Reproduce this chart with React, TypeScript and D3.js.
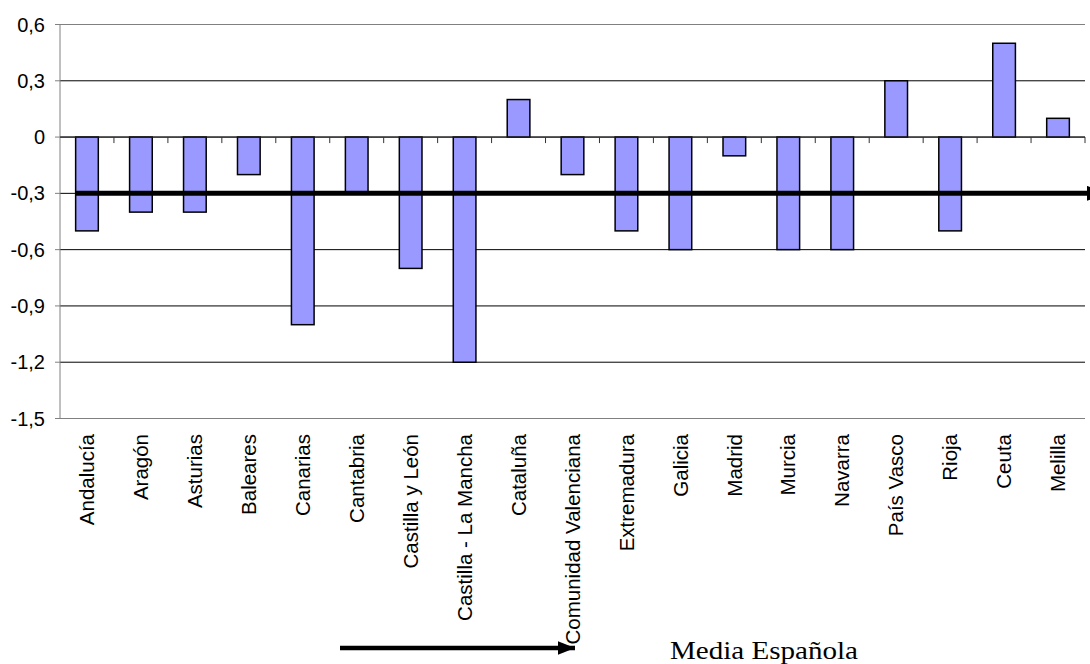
import React from "react";
import * as d3 from "d3";

const categories = [
  "Andalucía", "Aragón", "Asturias", "Baleares", "Canarias", "Cantabria",
  "Castilla y León", "Castilla - La Mancha", "Cataluña", "Comunidad Valenciana",
  "Extremadura", "Galicia", "Madrid", "Murcia", "Navarra", "País Vasco",
  "Rioja", "Ceuta", "Melilla",
];
const values = [
  -0.5, -0.4, -0.4, -0.2, -1.0, -0.3, -0.7, -1.2, 0.2, -0.2,
  -0.5, -0.6, -0.1, -0.6, -0.6, 0.3, -0.5, 0.5, 0.1,
];
const yTicks = [0.6, 0.3, 0, -0.3, -0.6, -0.9, -1.2, -1.5];
const meanValue = -0.3;
const meanLabel = "Media Española";

const W = 1090;
const H = 664;
const left = 60;
const right = 1085;
const top = 24.5;
const bottom = 418.5;

export default function App() {
  const x = d3.scaleBand<string>().domain(categories).range([left, right]);
  const y = d3.scaleLinear().domain([-1.5, 0.6]).range([bottom, top]);
  const bw = x.bandwidth();
  const barW = bw * 0.42;
  const fmt = (v: number) => (v === 0 ? "0" : d3.format(".1f")(v).replace(".", ",").replace("−", "-"));
  const sans = "Arial, 'Liberation Sans', sans-serif";

  return (
    <svg
      width={W}
      height={H}
      style={{ position: "absolute", left: 0, top: 0, background: "#fff" }}
    >
      <defs>
        <marker id="ah" viewBox="0 0 10 10" refX="10" refY="5" markerWidth="3.8" markerHeight="3" preserveAspectRatio="none" orient="auto" markerUnits="strokeWidth">
          <path d="M0,0 L10,5 L0,10 z" fill="#000" />
        </marker>
      </defs>
      {/* gridlines */}
      {yTicks.map((t, i) => (
        <line
          key={"g" + i}
          x1={left}
          x2={right}
          y1={y(t)}
          y2={y(t)}
          stroke={t === 0.6 || t === -1.5 ? "#808080" : "#000"}
          strokeWidth={1}
        />
      ))}
      {/* left axis */}
      <line x1={left} x2={left} y1={top} y2={bottom} stroke="#808080" strokeWidth={1} />
      {yTicks.map((t, i) => (
        <g key={"yt" + i}>
          <line x1={left - 5} x2={left} y1={y(t)} y2={y(t)} stroke="#808080" />
          <text
            x={45}
            y={y(t)}
            dy="0.35em"
            textAnchor="end"
            fontFamily={sans}
            fontSize={20}
            fill="#000"
          >
            {fmt(t)}
          </text>
        </g>
      ))}
      {/* bars */}
      {categories.map((c, i) => {
        const v = values[i];
        const x0 = (x(c) as number) + (bw - barW) / 2;
        return (
          <rect
            key={"b" + i}
            x={x0}
            y={Math.min(y(v), y(0))}
            width={barW}
            height={Math.abs(y(v) - y(0))}
            fill="#9999FF"
            stroke="#000"
            strokeWidth={1.5}
          />
        );
      })}
      {/* category axis at zero */}
      <line x1={left} x2={right} y1={y(0)} y2={y(0)} stroke="#222" strokeWidth={1} />
      {categories.map((c, i) => (
        <line
          key={"xt" + i}
          x1={(x(c) as number) + bw}
          x2={(x(c) as number) + bw}
          y1={y(0)}
          y2={y(0) + 6}
          stroke="#333"
        />
      ))}
      {/* category labels */}
      {categories.map((c, i) => {
        const cx = (x(c) as number) + bw / 2;
        const ly = 434;
        return (
          <text
            key={"l" + i}
            transform={`translate(${cx},${ly}) rotate(-90)`}
            textAnchor="end"
            dy="0.35em"
            fontFamily={sans}
            fontSize={20.5}
            fill="#000"
          >
            {c}
          </text>
        );
      })}
      {/* mean line */}
      <line
        x1={(x(categories[0]) as number) + (bw - barW) / 2}
        x2={1106}
        y1={y(meanValue)}
        y2={y(meanValue)}
        stroke="#000"
        strokeWidth={5}
        markerEnd="url(#ah)"
      />
      {/* annotation arrow */}
      <line x1={340} x2={575} y1={648} y2={648} stroke="#000" strokeWidth={4.5} markerEnd="url(#ah)" />
      <text
        x={670}
        y={659}
        fontFamily="'Times New Roman', 'Liberation Serif', serif"
        fontSize={26}
        textLength={188}
        lengthAdjust="spacingAndGlyphs"
        fill="#000"
      >
        {meanLabel}
      </text>
    </svg>
  );
}
